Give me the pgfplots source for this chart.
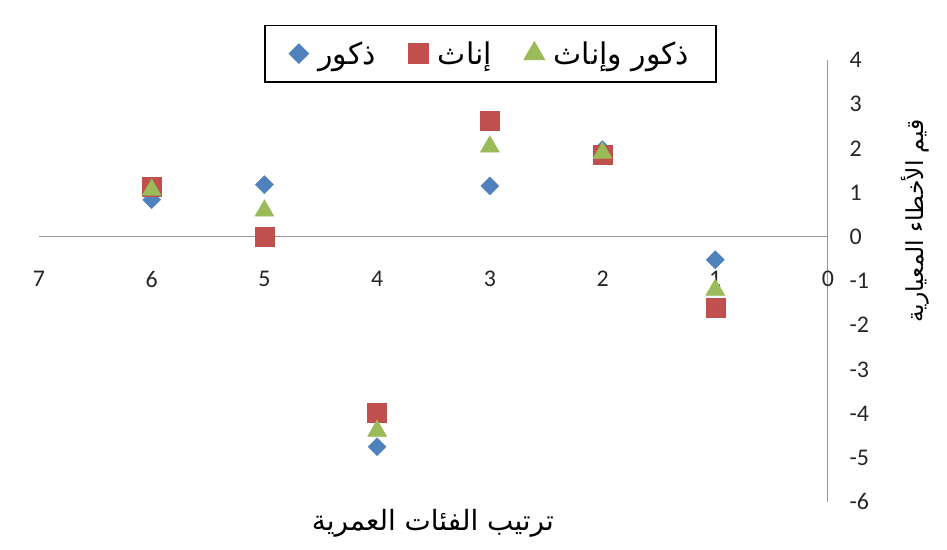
\documentclass[border=0pt]{standalone}
\usepackage{fontspec}
\usepackage{pgfplots}
\pgfplotsset{compat=1.18}
\setmainfont{Carlito}
\newfontfamily\arabicfont[Script=Arabic]{DejaVu Sans}
\TeXXeTstate=1
\definecolor{xlblue}{HTML}{4F81BD}
\definecolor{xlred}{HTML}{C0504D}
\definecolor{xlgreen}{HTML}{9BBB59}
\begin{document}
\begin{tikzpicture}
\begin{axis}[
  scale only axis, width=789bp, height=442bp,
  xmin=0, xmax=7, ymin=-6, ymax=4, x dir=reverse,
  axis lines=middle,
  axis line style={draw=black!40, line width=1pt, -},
  xtick={0,1,2,3,4,5,6,7}, ytick={-6,-5,-4,-3,-2,-1,0,1,2,3,4},
  major tick length=0pt,
  hide obscured x ticks=false, hide obscured y ticks=false,
  /pgf/number format/assume math mode=true,
  tick label style={font=\fontsize{24}{28}\selectfont, text=black!85},
  xticklabel style={anchor=north, yshift=-31bp},
  yticklabel style={anchor=west, xshift=18bp},
  xlabel={\arabicfont\beginR ترتيب الفئات العمرية\endR},
  ylabel={\arabicfont\beginR قيم الأخطاء المعيارية\endR},
  xlabel style={at={(axis cs:3.505,-6.49)}, anchor=center, font=\fontsize{28}{32}\selectfont},
  ylabel style={at={(axis cs:-0.77,0.36)}, anchor=center, rotate=90, font=\fontsize{23.5}{27}\selectfont},
  clip=false,
  legend style={at={(axis cs:5.004,4.80)}, anchor=north west, draw=black, line width=1.8pt,
    font=\fontsize{30}{34}\selectfont, legend columns=3, inner xsep=25bp, inner ysep=14bp},
  legend cell align=left,
  /tikz/every odd column/.append style={column sep=8bp},
  /tikz/every even column/.append style={column sep=31bp},
]
\addplot[only marks, mark=square*, mark size=6.4bp, mark options={rotate=45, fill=xlblue, draw=xlblue}]
  coordinates {(6,0.84) (5,1.18) (4,-4.75) (3,1.15) (2,1.97) (1,-0.52)};
\addlegendentry{\makebox[58bp][c]{\arabicfont\beginR ذكور\endR}}
\addplot[only marks, mark=square*, mark size=9.5bp, mark options={fill=xlred, draw=xlred}]
  coordinates {(6,1.13) (5,0.0) (4,-3.98) (3,2.62) (2,1.86) (1,-1.6)};
\addlegendentry{\arabicfont\beginR إناث\endR}
\addplot[only marks, mark=triangle*, mark size=11bp, mark options={fill=xlgreen, draw=xlgreen}]
  coordinates {(6,1.06) (5,0.59) (4,-4.39) (3,2.04) (2,1.9) (1,-1.2)};
\addlegendentry{\arabicfont\beginR ذكور وإناث\endR}
\coordinate (BL) at (axis cs:7,-6);
\coordinate (TR) at (axis cs:0,4);
\end{axis}
\pgfresetboundingbox
\path[use as bounding box] ([shift={(-39bp,-47bp)}]BL) rectangle ([shift={(119bp,60bp)}]TR);
\end{tikzpicture}
\end{document}
